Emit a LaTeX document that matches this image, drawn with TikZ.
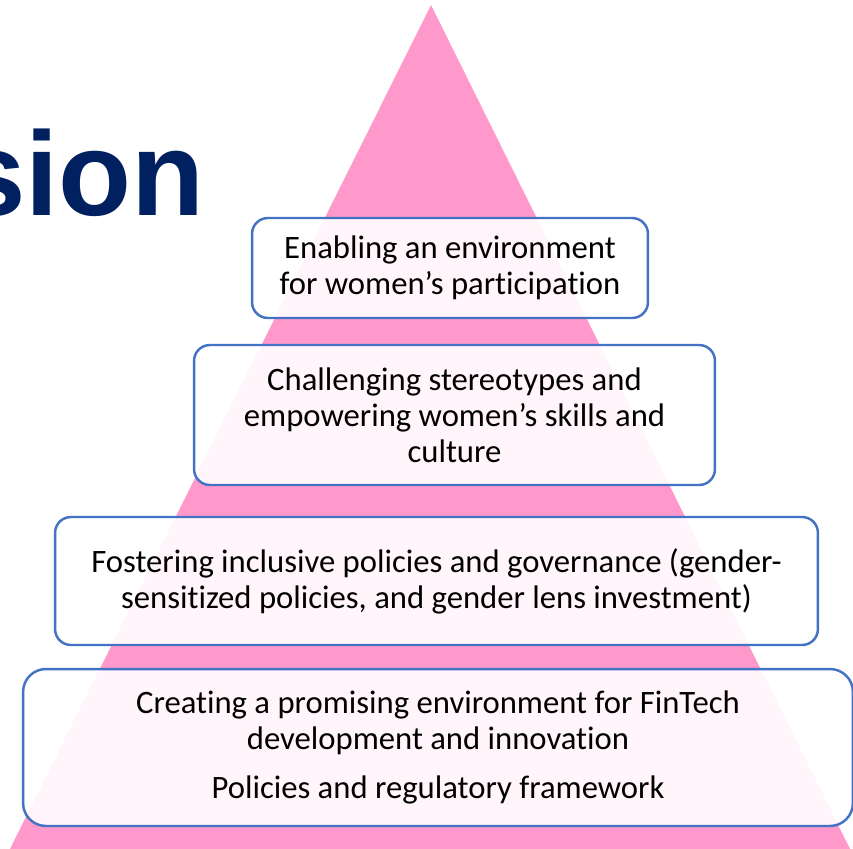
\documentclass[tikz,border=0pt]{standalone}
\usepackage{fontspec}
\setmainfont{Carlito}[Ligatures=NoCommon]
\newfontfamily\headfont{Liberation Sans}
\definecolor{pyrpink}{RGB}{255,153,204}
\definecolor{boxblue}{RGB}{68,114,196}
\definecolor{headnavy}{RGB}{0,32,96}
\tikzset{
  level/.style={draw=boxblue, line width=1.4pt, fill=white, fill opacity=0.9, text opacity=1,
    rounded corners=9pt, align=center, inner sep=0pt, text=black,
    font=\fontsize{18.6}{20.4}\selectfont},
}
\begin{document}
\begin{tikzpicture}[x=0.02cm,y=-0.02cm]
            
            \def\W{853}	 %width of picture
            \def\H{849}	 %height of picture
            
            \useasboundingbox (0,0) rectangle (\W,\H);
            \clip (0,0) rectangle (\W,\H);
            
            %PYRAMID
            \fill[pyrpink] (431,5) -- (851,851) -- (9,851) -- cycle;
            
            %title, cut off on the left
            \node[anchor=base east, inner sep=0pt, text=headnavy,
                font=\headfont\bfseries\fontsize{68}{68}\selectfont] (title) at (205,215) {sion};
            
            %LEVELS (top to bottom)
            \node[level, minimum width=7.92cm, minimum height=2cm] (enable) at (450,268)
                {Enabling an environment\\for women’s participation};
            \node[level, minimum width=10.42cm, minimum height=2.8cm] (challenge) at (454.5,415)
                {Challenging stereotypes and\\empowering women’s skills and\\culture};
            \node[level, minimum width=15.26cm, minimum height=2.56cm] (foster) at (436.5,581)
                {Fostering inclusive policies and governance (gender-\\sensitized policies, and gender lens investment)};
            \node[level, rounded corners=13pt, minimum width=16.6cm, minimum height=3.14cm] (create) at (438,747.5)
                {Creating a promising environment for FinTech\\development and innovation\\[8pt]Policies and regulatory framework};
            
\end{tikzpicture}
\end{document}
